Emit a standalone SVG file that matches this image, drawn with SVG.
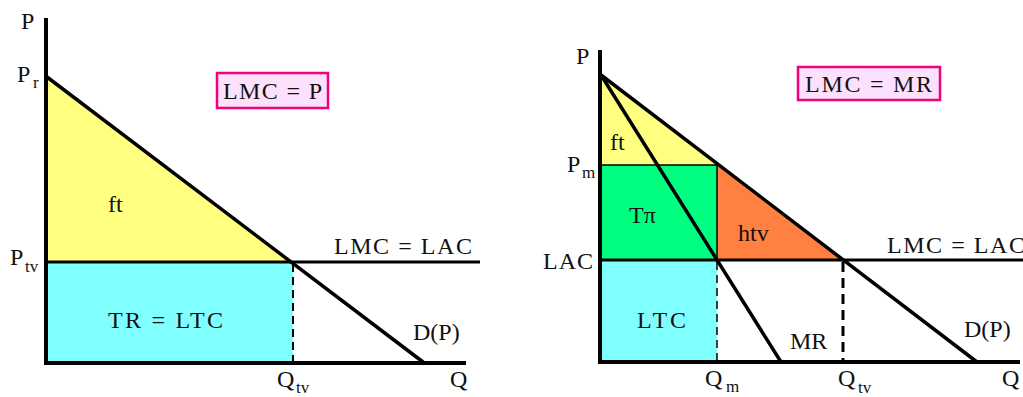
<svg xmlns="http://www.w3.org/2000/svg" width="1023" height="397" viewBox="0 0 1023 397" font-family="'Liberation Serif', 'Times New Roman', 'DejaVu Serif', serif">
<style>
.t{font-size:24px;font-family:'Liberation Serif','Times New Roman',serif;fill:#111;}
.s{font-size:17px;font-family:'Liberation Serif','Times New Roman',serif;fill:#111;}
.ax{stroke:#000;stroke-width:4;fill:none;}
.ln{stroke:#000;stroke-width:3.5;fill:none;stroke-linecap:round;}
.h{stroke:#000;stroke-width:3;fill:none;}
.thin{stroke:#000;stroke-width:1.5;fill:none;}
.box{fill:#FCE0FC;stroke:#F0007C;stroke-width:2.5;}
</style>
<rect width="1023" height="397" fill="#fff"/>

<g id="left-areas">
<polygon id="left-ft-area" points="46,77 293,262 46,262" fill="#FFFF80"/>
<rect id="left-tr-area" x="46" y="262" width="247" height="101" fill="#80FFFF"/>
</g>
<g id="right-areas">
<polygon id="right-ft-area" points="600,75 718,165 600,165" fill="#FFFF80"/>
<rect id="right-tpi-area" x="600" y="165" width="117" height="95" fill="#00FF80"/>
<polygon id="right-htv-area" points="717,165 843,260 717,260" fill="#FF8040"/>
<rect id="right-ltc-area" x="600" y="260" width="117" height="102" fill="#80FFFF"/>
</g>
<g id="connectors">
<line class="h" x1="46" y1="262" x2="480" y2="262"/>
<line class="ln" x1="47" y1="77" x2="423" y2="362"/>
<line stroke="#000" stroke-width="2" stroke-dasharray="8,5" x1="293" y1="264" x2="293" y2="362"/>
<line class="ax" x1="46" y1="18" x2="46" y2="363"/>
<line class="ax" x1="44" y1="363" x2="466" y2="363"/>

<line class="thin" x1="600" y1="165" x2="718" y2="165"/>
<line class="thin" x1="717" y1="165" x2="717" y2="260"/>
<line stroke="#000" stroke-width="1.5" stroke-dasharray="8,5" x1="717" y1="262" x2="717" y2="362"/>
<line stroke="#000" stroke-width="3" stroke-dasharray="10,6" x1="843" y1="262" x2="843" y2="362"/>
<line class="h" x1="600" y1="260" x2="1023" y2="260"/>
<line class="ln" x1="601" y1="75" x2="977" y2="362"/>
<line class="ln" x1="601" y1="75" x2="781" y2="362"/>
<line class="ax" x1="600" y1="50" x2="600" y2="362"/>
<line class="ax" x1="598" y1="362" x2="1020" y2="362"/>
</g>

<g id="left-labels" font-family="Liberation Serif">
<text class="t" x="21" y="29">P</text>
<text class="t" x="17" y="82">P</text><text class="s" x="33" y="88">r</text>
<text class="t" x="10" y="265">P</text><text class="s" x="25" y="272">tv</text>
<text class="t" x="108" y="212">ft</text>
<text class="t" x="108" y="328" textLength="115" lengthAdjust="spacing">TR = LTC</text>
<text class="t" x="334" y="254" textLength="138" lengthAdjust="spacing">LMC = LAC</text>
<text class="t" x="413" y="340">D(P)</text>
<text class="t" x="450" y="387">Q</text>
<text class="t" x="277" y="387">Q</text><text class="s" x="296" y="393">tv</text>
</g>
<g id="left-box">
<rect class="box" x="217" y="73" width="111" height="35"/>
<text class="t" x="223" y="99" textLength="99" lengthAdjust="spacing">LMC = P</text>
</g>

<g id="right-labels">
<text class="t" x="576" y="64">P</text>
<text class="t" x="567" y="172">P</text><text class="s" x="582" y="178">m</text>
<text class="t" x="610" y="150">ft</text>
<text class="t" x="629" y="223">Tπ</text>
<text class="t" x="738" y="241">htv</text>
<text class="t" x="543" y="269" textLength="50" lengthAdjust="spacing">LAC</text>
<text class="t" x="637" y="328" textLength="49" lengthAdjust="spacing">LTC</text>
<text class="t" x="790" y="349">MR</text>
<text class="t" x="964" y="337">D(P)</text>
<text class="t" x="887" y="253" textLength="138" lengthAdjust="spacing">LMC = LAC</text>
<text class="t" x="705" y="386">Q</text><text class="s" x="726" y="392">m</text>
<text class="t" x="838" y="386">Q</text><text class="s" x="858" y="393">tv</text>
<text class="t" x="1002" y="386">Q</text>
</g>
<g id="right-box">
<rect class="box" x="798" y="67" width="142" height="33"/>
<text class="t" x="805" y="92" textLength="127" lengthAdjust="spacing">LMC = MR</text>
</g>
</svg>
